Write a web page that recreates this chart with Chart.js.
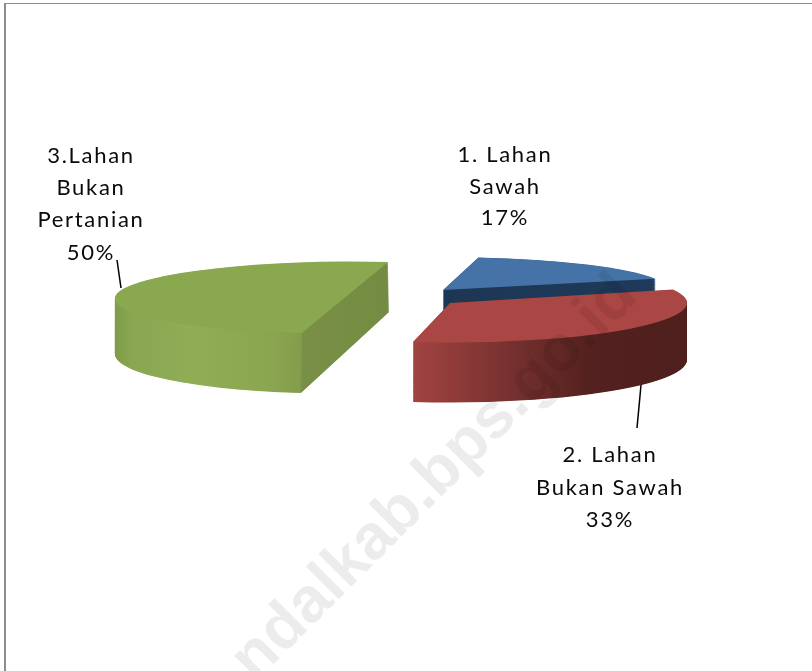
<!DOCTYPE html>
<html>
<head>
<meta charset="utf-8">
<title>Penggunaan Lahan</title>
<script src="https://cdn.jsdelivr.net/npm/chart.js@4"></script>
<style>
  html, body { margin: 0; padding: 0; background: #fff; }
  canvas { display: block; }
</style>
</head>
<body>
<canvas id="chart" width="812" height="671"></canvas>
<script>
// --- Data ---
const categories = ['1. Lahan Sawah', '2. Lahan Bukan Sawah', '3.Lahan Bukan Pertanian'];
const shares = [17, 33, 50];
const labelLines = [['1. Lahan', 'Sawah'], ['2. Lahan', 'Bukan Sawah'], ['3.Lahan', 'Bukan', 'Pertanian']];
const topColors = ['#4573a7', '#aa4644', '#8aa84f'];
const watermark = 'ndalkab.bps.go.id';

// --- Fake 3D layout: one ellipse per exploded slice (screen px) ---
const sliceLayout = [
  { cx: 443, cy: 290, rx: 226, ry: 33, skew: 0, shift: 55, grow: 5,
    side: [[443, '#1d3654'], [655, '#1f3a5a']] },
  { cx: 450, cy: 303, rx: 237, ry: 39.5, skew: 0, shift: 57, grow: 3,
    side: [[412, '#a24341'], [500, '#7b3331'], [590, '#53211f'], [687, '#4e1f1d']] },
  { cx: 345, cy: 297.5, rx: 230, ry: 36, skew: -0.2, shift: 55, grow: 5,
    side: [[115, '#7f9b4a'], [135, '#89a651'], [200, '#8fae56'], [275, '#8ba650'], [308, '#849d4c'], [310, '#788f45'], [388, '#748b43']] }
];
const paintOrder = [2, 0, 1];

// --- Text layout ---
const labelBoxes = [
  { x: 505, y: 162, step: 31.5 },
  { x: 610, y: 462, step: 32.5 },
  { x: 91, y: 163, step: 32.2 }
];
const leaders = [
  [[117, 260], [121, 288]],
  [[641, 385], [637, 428]]
];

function sliceCopy(arc, fill) {
  const copy = Object.create(arc);
  copy.options = {
    backgroundColor: fill, borderWidth: 0, borderRadius: 0, offset: 0,
    spacing: 0, circular: true, borderAlign: 'center'
  };
  return copy;
}

const pie3d = {
  id: 'pie3d',
  beforeDatasetsDraw(chart) {
    const { ctx } = chart;
    const arcs = chart.getDatasetMeta(0).data;
    paintOrder.forEach(i => {
      const arc = arcs[i];
      const s = sliceLayout[i];
      const R = arc.outerRadius;
      const toLocal = x => arc.x + (x - s.cx) * R / s.rx;
      const x0 = s.side[0][0];
      const x1 = s.side[s.side.length - 1][0];
      const grad = ctx.createLinearGradient(toLocal(x0), 0, toLocal(x1), 0);
      s.side.forEach(([x, c]) => grad.addColorStop((x - x0) / (x1 - x0), c));

      const paint = (item, dy, ry) => {
        ctx.save();
        ctx.translate(s.cx, s.cy + dy);
        ctx.transform(1, 0, s.skew, 1, 0, 0);
        ctx.scale(s.rx / R, ry / R);
        ctx.translate(-arc.x, -arc.y);
        item.draw(ctx);
        ctx.restore();
      };
      const wall = sliceCopy(arc, grad);
      for (let d = s.shift; d > 0; d -= 0.5) {
        paint(wall, d, s.ry + s.grow * d / s.shift);
      }
      paint(arc, 0, s.ry);
    });
    return false;
  },
  afterDraw(chart) {
    const { ctx } = chart;
    ctx.save();

    // frame of the pasted picture
    ctx.fillStyle = '#8c8c8c';
    ctx.fillRect(4, 3, 2, 668);
    ctx.fillRect(4, 3, 808, 1);

    // site watermark
    ctx.save();
    ctx.translate(255, 683);
    ctx.rotate(-45 * Math.PI / 180);
    ctx.font = 'bold 64px "Liberation Sans"';
    ctx.fillStyle = 'rgba(0,0,0,0.075)';
    ctx.textAlign = 'left';
    ctx.textBaseline = 'alphabetic';
    ctx.fillText(watermark, 0, 0);
    ctx.restore();

    // leader lines
    ctx.strokeStyle = '#000';
    ctx.lineWidth = 1.5;
    leaders.forEach(([a, b]) => {
      ctx.beginPath();
      ctx.moveTo(a[0], a[1]);
      ctx.lineTo(b[0], b[1]);
      ctx.stroke();
    });

    // data labels
    ctx.fillStyle = '#0a0a0a';
    ctx.font = '22px Lato';
    ctx.letterSpacing = '1.7px';
    ctx.textAlign = 'center';
    ctx.textBaseline = 'alphabetic';
    labelBoxes.forEach((box, i) => {
      const lines = labelLines[i].concat(shares[i] + '%');
      lines.forEach((line, n) => ctx.fillText(line, box.x, box.y + n * box.step));
    });
    ctx.restore();
  }
};

new Chart(document.getElementById('chart'), {
  type: 'pie',
  data: {
    labels: categories,
    datasets: [{ data: shares, backgroundColor: topColors, borderWidth: 0 }]
  },
  options: {
    responsive: false,
    animation: false,
    rotation: 9,
    plugins: { legend: { display: false }, tooltip: { enabled: false } }
  },
  plugins: [pie3d]
});
</script>
</body>
</html>
